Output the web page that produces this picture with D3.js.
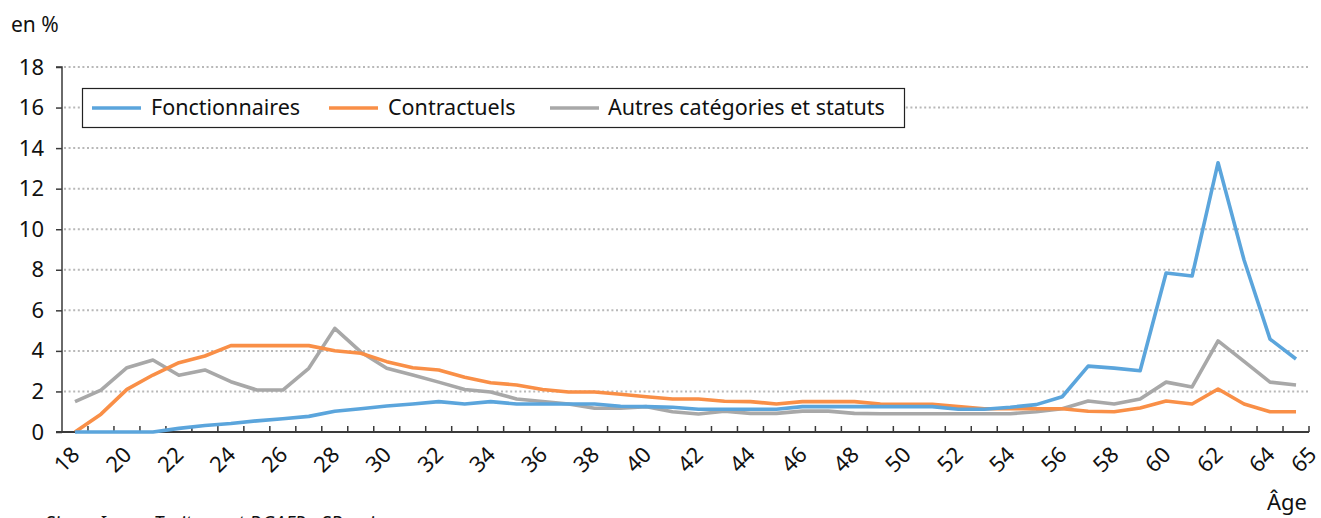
<!DOCTYPE html>
<html><head><meta charset="utf-8">
<script src="https://cdn.jsdelivr.net/npm/d3@7"></script>
<style>
body{margin:0;background:#fff;}
svg{display:block;}
</style></head>
<body>
<svg id="chart" width="1321" height="518"></svg>
<script>
const ages = [18,19,20,21,22,23,24,25,26,27,28,29,30,31,32,33,34,35,36,37,38,39,40,41,42,43,44,45,46,47,48,49,50,51,52,53,54,55,56,57,58,59,60,61,62,63,64,65];
const fonctionnaires = [0,0,0,0,0.18,0.32,0.42,0.55,0.65,0.77,1.02,1.15,1.28,1.38,1.5,1.38,1.5,1.38,1.38,1.38,1.38,1.27,1.25,1.22,1.12,1.12,1.12,1.12,1.25,1.25,1.25,1.25,1.25,1.25,1.12,1.12,1.22,1.35,1.74,3.25,3.15,3.02,7.84,7.69,13.28,8.48,4.58,3.6];
const contractuels = [0,0.88,2.1,2.81,3.42,3.75,4.26,4.26,4.26,4.26,4.01,3.88,3.47,3.17,3.06,2.7,2.43,2.32,2.1,1.97,1.97,1.86,1.74,1.63,1.63,1.52,1.5,1.38,1.5,1.5,1.5,1.38,1.37,1.37,1.25,1.15,1.15,1.15,1.15,1.02,1.0,1.18,1.53,1.38,2.12,1.38,1.0,1.0];
const autres = [1.5,2.07,3.17,3.55,2.8,3.06,2.48,2.07,2.07,3.14,5.11,3.95,3.14,2.81,2.46,2.1,1.97,1.63,1.5,1.38,1.17,1.17,1.25,1.0,0.89,1.02,0.92,0.92,1.03,1.03,0.92,0.9,0.9,0.9,0.9,0.9,0.9,1.0,1.15,1.53,1.38,1.63,2.46,2.22,4.49,3.48,2.46,2.32];
const seriesNames = ["Fonctionnaires","Contractuels","Autres catégories et statuts"];
const seriesColors = ["#5ba5dc","#f98f47","#a8a8a8"];
const yTicks = [0,2,4,6,8,10,12,14,16,18];
const xLabelAges = [18,20,22,24,26,28,30,32,34,36,38,40,42,44,46,48,50,52,54,56,58,60,62,64,65];

(function(){
const svg = d3.select("#chart");
const mL = 62, mR = 1309, mT = 67, mB = 432;
const x = d3.scaleBand().domain(ages).range([mL, mR]).padding(0);
const bw = x.bandwidth();
const cx = a => x(a) + bw / 2;
const y = d3.scaleLinear().domain([0, 18]).range([mB, mT]);
const axisCol = "#3a3a3a";
const fontTick = "'Noto Sans', 'Open Sans', sans-serif";
const fontLeg = "'Noto Sans', 'Open Sans', sans-serif";

// gridlines
svg.append("g").selectAll("line").data(yTicks.filter(d => d > 0)).join("line")
  .attr("x1", mL + 2).attr("x2", mR)
  .attr("y1", d => y(d)).attr("y2", d => y(d))
  .attr("stroke", "#b8b8b8").attr("stroke-width", 2).attr("stroke-dasharray", "2,2.6");

// y axis
const yAxis = d3.axisLeft(y).tickValues(yTicks).tickSize(6).tickPadding(12).tickFormat(d3.format("d"));
const gy = svg.append("g").attr("transform", `translate(${mL},0)`).call(yAxis);
gy.select(".domain").attr("stroke", axisCol).attr("stroke-width", 1.5).attr("d", `M-6,${mT}H0V${mB}`);
gy.selectAll(".tick line").attr("stroke", axisCol).attr("stroke-width", 1.5);
gy.selectAll(".tick text").attr("font-family", fontTick).attr("font-size", 22).attr("fill", "#111");

// x axis line + ticks at band boundaries (inward)
const gx = svg.append("g");
gx.append("line").attr("x1", mL - 6).attr("x2", mR).attr("y1", mB).attr("y2", mB)
  .attr("stroke", axisCol).attr("stroke-width", 1.8);
gx.selectAll("line.t").data(ages.slice(1).map(a => x(a)).concat([mR])).join("line").attr("class", "t")
  .attr("x1", d => d).attr("x2", d => d).attr("y1", mB).attr("y2", mB - 6)
  .attr("stroke", axisCol).attr("stroke-width", 1.5);
gx.selectAll("text").data(xLabelAges).join("text")
  .attr("transform", a => {
    const px = a === 65 ? mR + 9 : cx(a) + 6;
    return `translate(${px},${mB + 24}) rotate(-45)`;
  })
  .attr("text-anchor", "end")
  .attr("font-family", fontTick).attr("font-size", 22).attr("fill", "#111")
  .text(a => a);

// lines
const allSeries = [fonctionnaires, contractuels, autres];
const line = d3.line().x((d, i) => cx(ages[i])).y(d => y(d));
svg.append("g").selectAll("path").data([2, 1, 0]).join("path")
  .attr("d", i => line(allSeries[i]))
  .attr("fill", "none").attr("stroke", i => seriesColors[i]).attr("stroke-width", 3.6)
  .attr("stroke-linejoin", "round");

// legend
const lg = svg.append("g");
lg.append("rect").attr("x", 82.5).attr("y", 88.5).attr("width", 822).attr("height", 39)
  .attr("fill", "#fff").attr("stroke", "#222").attr("stroke-width", 1.2);
const legX = [92, 329, 550];
const legTxt = [151, 388, 608];
seriesNames.forEach((n, i) => {
  lg.append("line").attr("x1", legX[i]).attr("x2", legX[i] + 49).attr("y1", 108).attr("y2", 108)
    .attr("stroke", seriesColors[i]).attr("stroke-width", 3.6);
  lg.append("text").attr("x", legTxt[i]).attr("y", 115).attr("font-family", fontLeg)
    .attr("font-size", 21.5).attr("fill", "#111").text(n);
});

// titles
svg.append("text").attr("x", 11).attr("y", 32).attr("font-family", fontTick).attr("font-size", 21).attr("fill", "#111").text("en %");
svg.append("text").attr("x", 1307).attr("y", 510).attr("text-anchor", "end").attr("font-family", fontTick).attr("font-size", 22).attr("fill", "#111").text("Âge");
svg.append("text").attr("x", 45).attr("y", 530).attr("font-family", fontTick).attr("font-style", "italic").attr("font-size", 19).attr("fill", "#111").text("Siasp, Insee. Traitement DGAFP - SDessi.");
})();
</script>
</body></html>
